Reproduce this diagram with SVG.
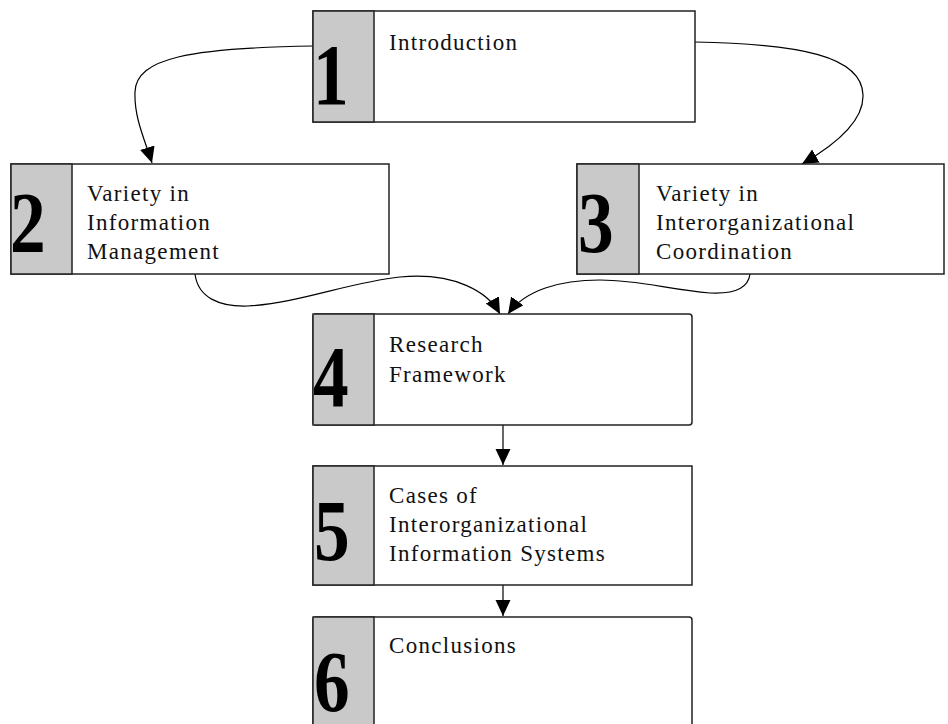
<svg xmlns="http://www.w3.org/2000/svg" width="948" height="724" viewBox="0 0 948 724">
  <defs>
    <marker id="arrow" markerUnits="userSpaceOnUse" markerWidth="18" markerHeight="16" refX="16" refY="7.5" orient="auto">
      <path d="M0,0 L16,7.5 L0,15 z" fill="#000"/>
    </marker>
  </defs>
  <style>
    .box { fill: #fff; stroke: #222; stroke-width: 1.5; }
    .gray { fill: #c9c9c9; stroke: #222; stroke-width: 1.5; }
    .lbl { font-family: "Liberation Serif", "Times New Roman", serif; font-size: 23px; letter-spacing: 1.3px; fill: #111; }
    .num { font-family: "Liberation Serif", "Times New Roman", serif; font-size: 87px; font-weight: bold; fill: #000; }
    .conn { fill: none; stroke: #000; stroke-width: 1.2; marker-end: url(#arrow); }
  </style>
  <rect width="948" height="724" fill="#fff"/>

  <g id="connectors">
    <path class="conn" d="M313,46 C190,48 136,58 135,92 C134,118 145,140 152,163"/>
    <path class="conn" d="M695,42 C800,44 862,56 863,95 C864,122 835,145 802,164"/>
    <path class="conn" d="M195,274 C198,298 220,307 248,306 C300,303 350,282 400,277 C455,272 488,292 500,314"/>
    <path class="conn" d="M750,274 C748,290 730,294 710,293 C670,290 640,280 600,280 C560,280 525,290 508,314"/>
    <path class="conn" d="M503,425 L503,465"/>
    <path class="conn" d="M503,585 L503,616"/>
  </g>

  <g id="node1">
    <rect class="box" x="313" y="11" width="382" height="111"/>
    <rect class="gray" x="313" y="11" width="61" height="111"/>
    <text class="num" transform="translate(313,104) scale(0.82,1)">1</text>
    <text class="lbl" x="389" y="50">Introduction</text>
  </g>

  <g id="node2">
    <rect class="box" x="11" y="164" width="378" height="110"/>
    <rect class="gray" x="11" y="164" width="61" height="110"/>
    <text class="num" transform="translate(10,252) scale(0.82,1)">2</text>
    <text class="lbl" x="87" y="201">Variety in</text>
    <text class="lbl" x="87" y="230">Information</text>
    <text class="lbl" x="87" y="259">Management</text>
  </g>

  <g id="node3">
    <rect class="box" x="577" y="164" width="367" height="110"/>
    <rect class="gray" x="577" y="164" width="62" height="110"/>
    <text class="num" transform="translate(578,252) scale(0.82,1)">3</text>
    <text class="lbl" x="656" y="201">Variety in</text>
    <text class="lbl" x="656" y="230">Interorganizational</text>
    <text class="lbl" x="656" y="259">Coordination</text>
  </g>

  <g id="node4">
    <rect class="box" x="313" y="314" width="379" height="111" rx="3"/>
    <rect class="gray" x="313" y="314" width="61" height="111"/>
    <text class="num" transform="translate(313,406) scale(0.82,1)">4</text>
    <text class="lbl" x="389" y="352">Research</text>
    <text class="lbl" x="389" y="382">Framework</text>
  </g>

  <g id="node5">
    <rect class="box" x="313" y="466" width="379" height="119"/>
    <rect class="gray" x="313" y="466" width="61" height="119"/>
    <text class="num" transform="translate(314,560) scale(0.82,1)">5</text>
    <text class="lbl" x="389" y="503">Cases of</text>
    <text class="lbl" x="389" y="532">Interorganizational</text>
    <text class="lbl" x="389" y="561">Information Systems</text>
  </g>

  <g id="node6">
    <rect class="box" x="313" y="617" width="379" height="130" rx="3"/>
    <rect class="gray" x="313" y="617" width="61" height="130"/>
    <text class="num" transform="translate(314,711) scale(0.82,1)">6</text>
    <text class="lbl" x="389" y="653">Conclusions</text>
  </g>
</svg>
